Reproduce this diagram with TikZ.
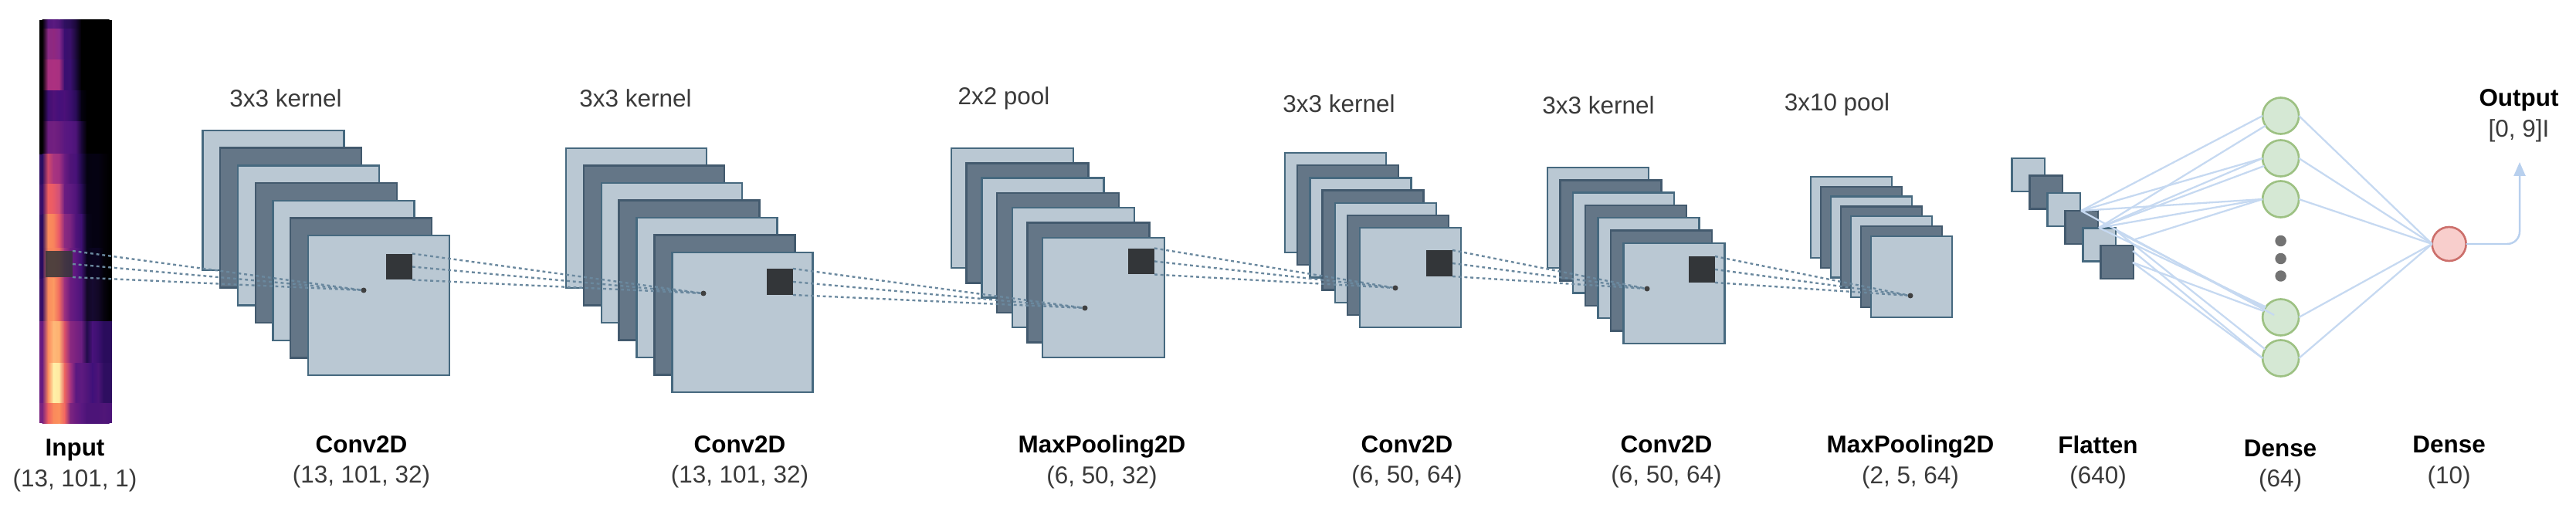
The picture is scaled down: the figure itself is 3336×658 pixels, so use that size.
\documentclass[tikz,border=0pt]{standalone}
\usepackage{fontspec}
\setmainfont{Liberation Sans}
\usetikzlibrary{arrows.meta}
\definecolor{lfill}{HTML}{BAC8D3}
\definecolor{lstroke}{HTML}{46697F}
\definecolor{dfill}{HTML}{647687}
\definecolor{dstroke}{HTML}{435A6E}
\definecolor{kfill}{HTML}{333639}
\definecolor{dotline}{HTML}{6A889E}
\definecolor{edgeblue}{HTML}{C6D9F1}
\definecolor{arrowblue}{HTML}{B8D0EE}
\definecolor{gfill}{HTML}{D5E8D4}
\definecolor{gstroke}{HTML}{9DC183}
\definecolor{rfill}{HTML}{F8CECC}
\definecolor{rstroke}{HTML}{CC6F6B}
\definecolor{txt}{HTML}{3A3A3A}
\tikzset{
  x=0.02cm,y=-0.02cm,
  lightlayer/.style={draw=lstroke,fill=lfill,line width=1.4pt,inner sep=0pt,outer sep=0pt},
  darklayer/.style={draw=dstroke,fill=dfill,line width=1.4pt,inner sep=0pt,outer sep=0pt},
  kernelbox/.style={fill=kfill,inner sep=0pt,outer sep=0pt,minimum width=0.68cm,minimum height=0.68cm},
  kerneldot/.style={circle,fill=black!75,inner sep=0pt,outer sep=0pt,minimum size=0.14cm},
  dotconn/.style={draw=dotline,line width=1.35pt,dash pattern=on 2.2pt off 2.2pt},
  neuron/.style={circle,draw=gstroke,fill=gfill,line width=1.5pt,minimum size=0.94cm,inner sep=0pt,outer sep=0pt},
  outneuron/.style={circle,draw=rstroke,fill=rfill,line width=1.5pt,minimum size=0.88cm,inner sep=0pt,outer sep=0pt},
  moredot/.style={circle,fill=black!55,minimum size=0.29cm,inner sep=0pt,outer sep=0pt},
  edgeline/.style={draw=edgeblue,line width=1.3pt},
  lab/.style={align=center,font=\fontsize{17.9}{22.5}\selectfont,text=txt,inner sep=0pt},
  top label/.style={font=\fontsize{17.9}{22}\selectfont,text=txt,inner sep=0pt},
}
\def\sevenlayers{0/lightlayer,1/darklayer,2/lightlayer,3/darklayer,4/lightlayer,5/darklayer,6/lightlayer}
\def\sixlayers{0/lightlayer,1/darklayer,2/lightlayer,3/darklayer,4/lightlayer,5/darklayer}
% name, left, top, width, height, dx, dy, layers
\newcommand{\layerstack}[8]{%
  \foreach \i/\st in #8 {
    \node[\st,minimum width=#4*0.02cm,minimum height=#5*0.02cm]
      (#1l\i) at ({#2+#4/2+\i*#6},{#3+#5/2+\i*#7}) {};
  }}
\newcommand{\layerlabel}[5]{%
  \node[lab] (#1) at (#2,#3) {\textcolor{black}{\textbf{#4}}\\{}#5};}
\begin{document}
\begin{tikzpicture}
\useasboundingbox (0,0) rectangle (3336,658);
% spectrogram input
\foreach \ya/\yb/\cols in {
26/38/{000000,50167A,5A1A80,4F1778,2F1060,2A0E55,1A0838,000000,000000,000000,000000,000000,000000},
38/78/{000000,8A2A85,90287F,86288A,3A0F70,3A106A,1C0A3A,000000,000000,000000,000000,000000,000000},
78/118/{000000,A83080,AC3080,A83080,3A0F70,3A1070,1C0A40,000000,000000,000000,000000,000000,000000},
118/158/{000000,3F0F72,4F1178,45107A,4A1078,3C0F70,2A0C58,040210,000000,000000,000000,000000,000000},
158/200/{000000,6E1E80,722080,6A1C7E,5A1880,551680,4C1478,1A0838,000000,000000,000000,000000,000000},
200/239/{2C0E60,D04A6A,A83480,A03080,6A1C80,4F1478,481278,200A48,040210,050212,050212,030108,000000},
239/278/{3A1068,F06060,E85A68,D0507A,6A1C80,5E1A80,50147A,2A0C58,050212,050212,050212,030108,000000},
278/322/{2C0E60,FA8C5C,F8845C,E8586A,8A2A80,7A2480,50147A,3C1070,08041A,050212,050212,030108,000000},
322/361/{2C0E60,F8845C,F8845C,F07060,A03280,701E80,5A1880,3C1070,08041A,0A0420,0A0420,030108,000000},
361/416/{3A1068,FA8C5C,FC9A62,F06A60,9A3080,6A1C80,5C1880,4C1478,120826,160A30,120826,06030F,000000},
416/470/{6A1C80,FD8A5C,FEB878,FDB070,D8506A,8A2880,7A2280,6A1E80,220C4C,48127A,3C1070,2A0C5C,2A0C5C},
470/522/{6A1C80,FD8A5C,FFF0A8,FFE8A0,EA6462,A83480,5A1880,5E1A80,50167A,40107A,4C1478,2E0E60,2E0E60},
522/548/{7A2480,F06060,FA8A5C,FB905C,EE6462,7C2480,6A1C80,5A1880,4C1478,4C1478,4C1478,501678,4C1478}}{
  \foreach \h [count=\j from 0, remember=\h as \hp (initially 000000)] in \cols {
    \definecolor{hc}{HTML}{\h}
    \definecolor{hq}{HTML}{\hp}
    \ifnum\j=0
      \fill[hc] (51,\ya) rectangle (54.8,\yb+0.3);
    \else
      \shade[left color=hq,right color=hc,shading angle=90,middle color=hq!50!hc]
        ({51+7.23*(\j-0.5)},\ya) rectangle ({51+7.23*(\j+0.5)+0.3},\yb+0.3);
    \fi
    \ifnum\j=12
      \fill[hc] ({51+7.23*12.5},\ya) rectangle (145,\yb+0.3);
    \fi
  }
}
\node[fill=kfill,fill opacity=0.85,inner sep=0pt,outer sep=0pt,minimum width=0.70cm,minimum height=0.68cm] (k0) at (76.5,342) {};
% layer stacks
\layerstack{sa}{262.5}{169}{183}{181}{22.75}{22.7}{\sevenlayers}
\layerstack{sb}{733}{192}{182}{181}{22.9}{22.5}{\sevenlayers}
\layerstack{sc}{1232}{192}{158}{155}{19.7}{19.3}{\sevenlayers}
\layerstack{sd}{1664}{198}{131}{129}{16.2}{16.2}{\sevenlayers}
\layerstack{se}{2004}{217}{131}{130}{16.4}{16.3}{\sevenlayers}
\layerstack{sf}{2345}{229}{105}{105}{13}{12.8}{\sevenlayers}
% kernels
\node[kernelbox] (k1) at (517,345.5) {};
\node[kernelbox] (k2) at (1010,365) {};
\node[kernelbox] (k3) at (1478,338.5) {};
\node[kernelbox] (k4) at (1864,341) {};
\node[kernelbox] (k5) at (2204,349) {};
% target points
\node[kerneldot] (d1) at (471,376) {};
\node[kerneldot] (d2) at (911,380) {};
\node[kerneldot] (d3) at (1405,399) {};
\node[kerneldot] (d4) at (1807,373) {};
\node[kerneldot] (d5) at (2133,374) {};
\node[kerneldot] (d6) at (2474,383) {};
% dotted projections
\foreach \a/\b in {k0/d1,k1/d2,k2/d3,k3/d4,k4/d5,k5/d6}{
  \draw[dotconn] (\a.north east) -- (\b);
  \draw[dotconn] (\a.east) -- (\b);
  \draw[dotconn] (\a.south east) -- (\b);
}
% flatten
\layerstack{fl}{2605.5}{205}{42.5}{43}{23}{22.6}{\sixlayers}
% dense neurons
\node[neuron] (c1) at (2953.6,150) {};
\node[neuron] (c2) at (2953.6,205) {};
\node[neuron] (c3) at (2953.6,258) {};
\node[neuron] (c4) at (2953.6,411) {};
\node[neuron] (c5) at (2953.6,464) {};
\node[moredot] (m1) at (2953.6,312) {};
\node[moredot] (m2) at (2953.6,335) {};
\node[moredot] (m3) at (2953.6,357.5) {};
\node[outneuron] (red) at (3171.6,316) {};
% flatten-to-dense edges
\coordinate (s1) at (2695,273);
\coordinate (s2) at (2718,295);
\coordinate (s3) at (2765,310);
\coordinate (s4) at (2762,340);
\coordinate (s5) at (2742,300);
\coordinate (s6) at (2762,325);
\coordinate (c4in) at (2945,408);
\foreach \a/\b in {s1/c1.west,s2/c1.213,s1/c2.west,s2/c2.west,s2/c2.205,s1/c3.west,s2/c3.west,s3/c3.west,
                   s1/c4in,s2/c4.145,s5/c4.150,s4/c4.160,s6/c5.west,s5/c5.150,s4/c5.west}{
  \draw[edgeline] (\a) -- (\b);
}
\foreach \a in {c1,c2,c3,c4,c5}{
  \draw[edgeline] (\a.east) -- (red.west);
}
% output arrow
\coordinate (outtip) at (3263,210);
\draw[draw=arrowblue,line width=1.4pt,rounded corners=0.32cm,-{Triangle[length=0.36cm,width=0.3cm]}] (red.east) -| (outtip);
% top labels
\node[top label] (t1) at (370,127) {3x3 kernel};
\node[top label] (t2) at (823,127) {3x3 kernel};
\node[top label] (t3) at (1300,127) {2x2 pool};
\node[top label] (t4) at (1734,134) {3x3 kernel};
\node[top label] (t5) at (2070,136) {3x3 kernel};
\node[top label] (t6) at (2379,135.5) {3x10 pool};
% bottom labels
\layerlabel{b0}{97}{603}{Input}{(13, 101, 1)}
\layerlabel{b1}{468}{598.5}{Conv2D}{(13, 101, 32)}
\layerlabel{b2}{958}{598.5}{Conv2D}{(13, 101, 32)}
\layerlabel{b3}{1427}{598.5}{MaxPooling2D}{(6, 50, 32)}
\layerlabel{b4}{1822}{598.5}{Conv2D}{(6, 50, 64)}
\layerlabel{b5}{2158}{598.5}{Conv2D}{(6, 50, 64)}
\layerlabel{b6}{2474}{598.5}{MaxPooling2D}{(2, 5, 64)}
\layerlabel{b7}{2717}{599}{Flatten}{(640)}
\layerlabel{b8}{2953}{603.5}{Dense}{(64)}
\layerlabel{b9}{3171.6}{599}{Dense}{(10)}
\layerlabel{b10}{3262}{150}{Output}{[0, 9]I}
\end{tikzpicture}
\end{document}
